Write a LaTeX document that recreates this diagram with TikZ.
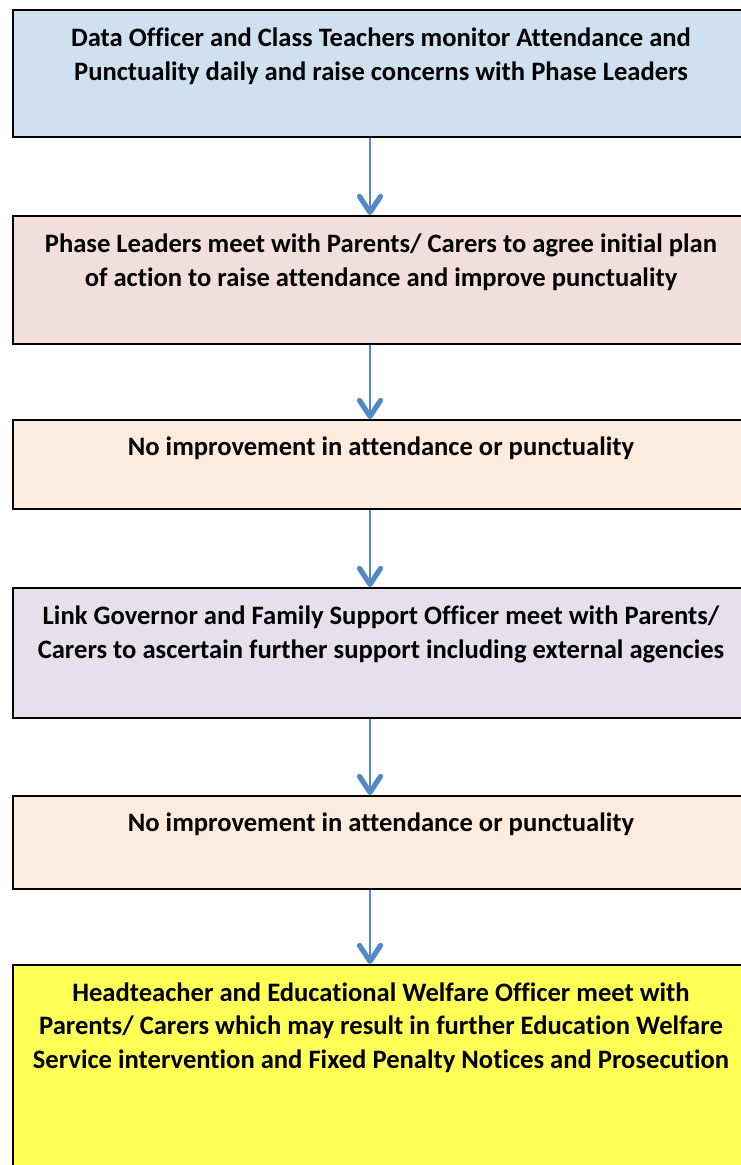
\documentclass[tikz,border=0pt]{standalone}
\usepackage{fontspec}
\setmainfont[Ligatures={NoCommon}]{Carlito}
\usepackage{tikz}
\usetikzlibrary{arrows.meta}
\usetikzlibrary{calc}
\usetikzlibrary{positioning}
\definecolor{monitorcolour}{RGB}{207,224,241}
\definecolor{plancolour}{RGB}{242,222,221}
\definecolor{noimprovecolour}{RGB}{253,235,221}
\definecolor{supportcolour}{RGB}{229,224,236}
\definecolor{penaltycolour}{RGB}{255,255,85}
\definecolor{arrowcolour}{RGB}{84,137,200}
\newcommand\boxwd{2pt}
\newcommand\arrowwd{2.6pt}
\newcommand\boxfont{\fontsize{26.6}{33.6}\bfseries\selectfont}
\tikzstyle{flowbox}   = [draw=black, line width=\boxwd, rectangle, anchor=north west,
                         minimum width=760pt, inner sep=0pt]
\tikzstyle{boxtext}   = [anchor=north, align=center, inner sep=0pt, font=\boxfont]
\tikzstyle{flowarrow} = [draw=arrowcolour, line width=\arrowwd,
                         -{Straight Barb[length=16pt, width=21pt, line width=2.6pt 1, round]}]

\begin{document}
\begin{tikzpicture}[x=1pt, y=-1pt]
    \useasboundingbox (0,0) rectangle (741,1165);
    % boxes
    \draw (12, 9) node[flowbox, fill=monitorcolour, minimum height=127pt] (monitor) {};
    \draw (12, 215) node[flowbox, fill=plancolour, minimum height=128pt] (plan) {};
    \draw (12, 419) node[flowbox, fill=noimprovecolour, minimum height=89pt] (noimprove1) {};
    \draw (12, 587) node[flowbox, fill=supportcolour, minimum height=130pt] (support) {};
    \draw (12, 795) node[flowbox, fill=noimprovecolour, minimum height=93pt] (noimprove2) {};
    \draw (12, 964) node[flowbox, fill=penaltycolour, minimum height=230pt] (penalty) {};
    % texts
    \draw ($(monitor.north west)+(369,19)$) node[boxtext] (monitortext)
      {Data Officer and Class Teachers monitor Attendance and\\
       Punctuality daily and raise concerns with Phase Leaders};
    \draw ($(plan.north west)+(369,19)$) node[boxtext] (plantext)
      {Phase Leaders meet with Parents/ Carers to agree initial plan\\
       of action to raise attendance and improve punctuality};
    \draw ($(noimprove1.north west)+(369,18)$) node[boxtext] (noimprove1text)
      {No improvement in attendance or punctuality};
    \draw ($(support.north west)+(369,19)$) node[boxtext] (supporttext)
      {Link Governor and Family Support Officer meet with Parents/\\
       Carers to ascertain further support including external agencies};
    \draw ($(noimprove2.north west)+(369,18)$) node[boxtext] (noimprove2text)
      {No improvement in attendance or punctuality};
    \draw ($(penalty.north west)+(369,18.5)$) node[boxtext] (penaltytext)
      {Headteacher and Educational Welfare Officer meet with\\
       Parents/ Carers which may result in further Education Welfare\\
       Service intervention and Fixed Penalty Notices and Prosecution};
    % arrows
    \coordinate (axis) at (370,0);
    \draw[flowarrow] (monitor.south -| axis) -- (plan.north -| axis);
    \draw[flowarrow] (plan.south -| axis) -- (noimprove1.north -| axis);
    \draw[flowarrow] (noimprove1.south -| axis) -- (support.north -| axis);
    \draw[flowarrow] (support.south -| axis) -- (noimprove2.north -| axis);
    \draw[flowarrow] (noimprove2.south -| axis) -- (penalty.north -| axis);
\end{tikzpicture}
\end{document}
